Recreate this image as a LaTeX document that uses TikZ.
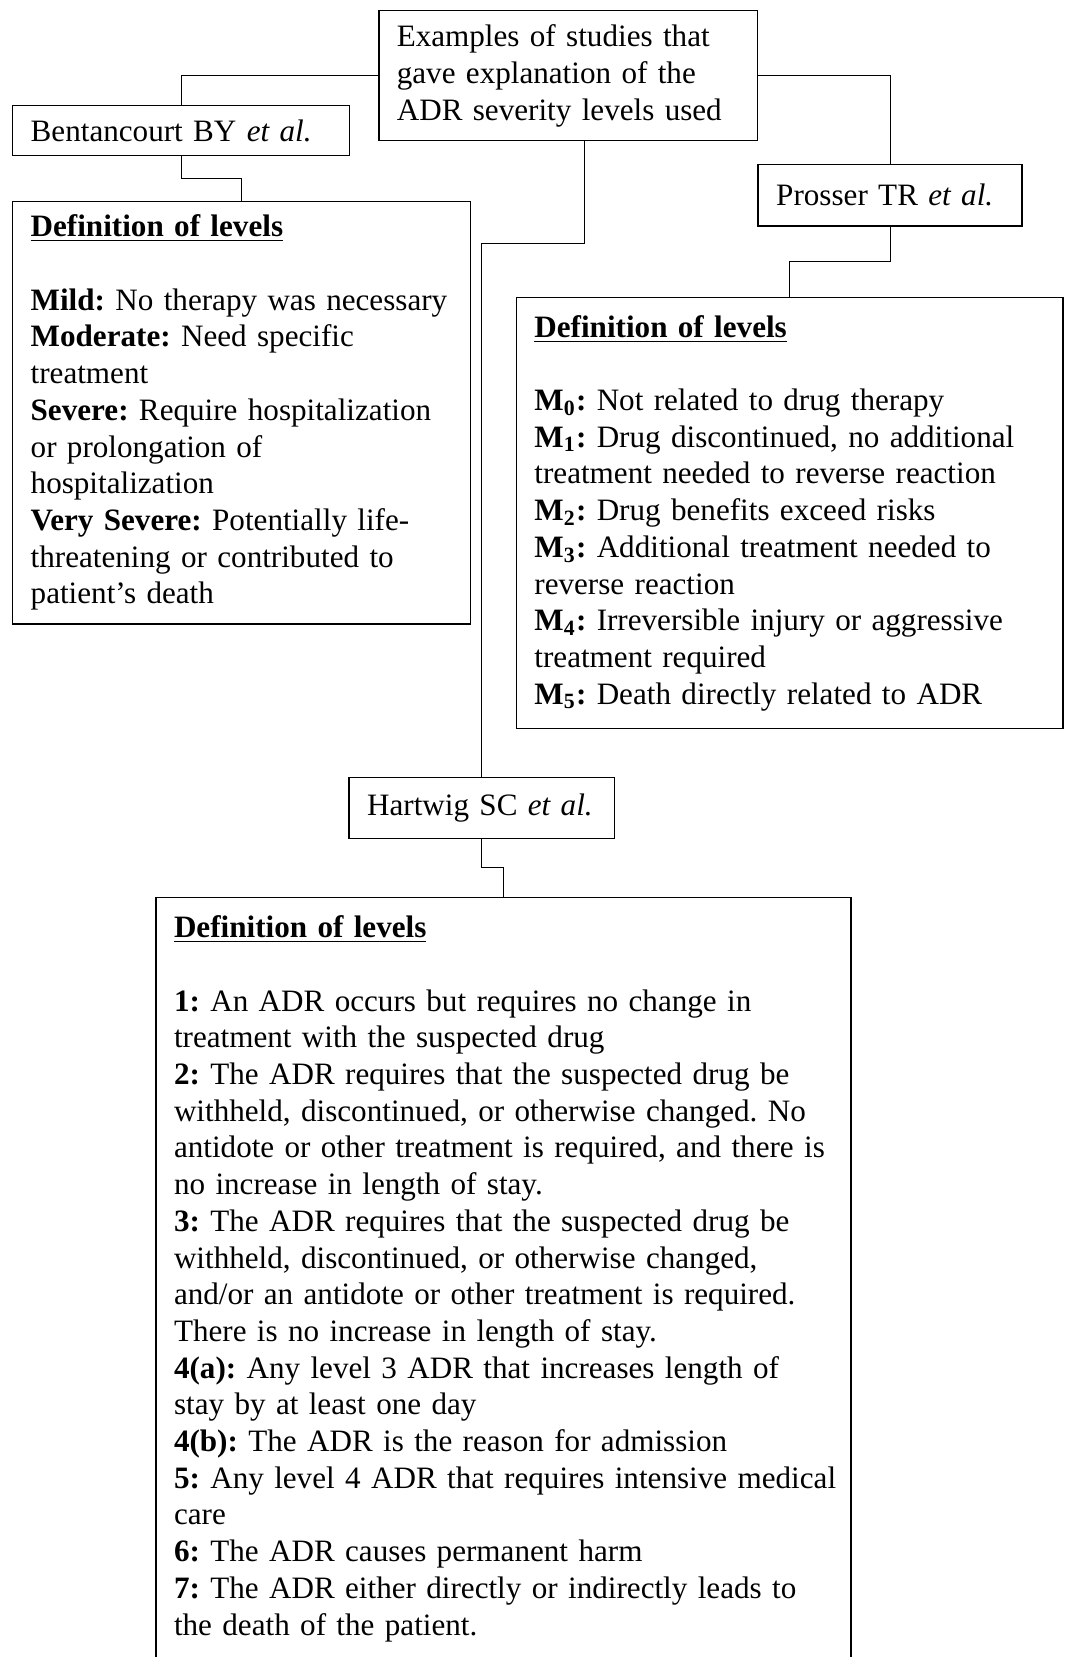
\documentclass[tikz,border=0pt]{standalone}
\usepackage{fontspec}
\setmainfont{Liberation Serif}
\usetikzlibrary{calc}
\newcommand{\boxfont}{\fontsize{11.7pt}{13.8pt}\selectfont\frenchspacing}
\newcommand{\levelhead}{\underline{\textbf{Definition of levels}}\\[13.8pt]}

\begin{document}
\begin{tikzpicture}[
    box/.style={rectangle, draw, line width=0.55pt, inner xsep=0.238cm, inner ysep=0pt, align=left, font=\boxfont, execute at begin node={\rightskip=0pt plus 1fil minus 2cm}},
    link/.style={line width=0.45pt}
]
    \useasboundingbox (0,0) rectangle (14.071,-21.892);
    \clip (0,0) rectangle (14.071,-21.892);

    % Question
    \node[box, text width=4.529cm, minimum height=1.718cm] (question) at (7.507,-1.000) {Examples of studies that\\gave explanation of the\\ADR severity levels used};

    % Studies
    \node[box, text width=3.974cm, minimum height=0.666cm] (bentancourt) at (2.393,-1.724) {Bentancourt BY \textit{et al.}};
    \node[box, align=center, text width=3.009cm, minimum height=0.815cm] (prosser) at (11.760,-2.579) {Prosser TR \textit{et al.}};
    \node[box, text width=3.032cm, minimum height=0.801cm] (hartwig) at (6.366,-10.675) {Hartwig SC \textit{et al.}};

    % Definitions
    \node[box, text width=5.571cm, minimum height=5.585cm] (bentdefs) at (3.191,-5.453) {\levelhead
        \textbf{Mild:} No therapy was necessary\\
        \textbf{Moderate:} Need specific\\
        treatment\\
        \textbf{Severe:} Require hospitalization\\
        or prolongation of\\
        hospitalization\\
        \textbf{Very Severe:} Potentially life-\\
        threatening or contributed to\\
        patient's death};
    \node[box, text width=6.747cm, minimum height=5.694cm] (prosserdefs) at (10.434,-6.778) {\levelhead
        \textbf{M\textsubscript{0}:} Not related to drug therapy\\
        \textbf{M\textsubscript{1}:} Drug discontinued, no additional\\
        treatment needed to reverse reaction\\
        \textbf{M\textsubscript{2}:} Drug benefits exceed risks\\
        \textbf{M\textsubscript{3}:} Additional treatment needed to\\
        reverse reaction\\
        \textbf{M\textsubscript{4}:} Irreversible injury or aggressive\\
        treatment required\\
        \textbf{M\textsubscript{5}:} Death directly related to ADR};
    \node[box, text width=8.706cm, minimum height=10.077cm] (hartwigdefs) at (6.652,-16.894) {\levelhead
        \textbf{1:} An ADR occurs but requires no change in\\
        treatment with the suspected drug\\
        \textbf{2:} The ADR requires that the suspected drug be\\
        withheld, discontinued, or otherwise changed. No\\
        antidote or other treatment is required, and there is\\
        no increase in length of stay.\\
        \textbf{3:} The ADR requires that the suspected drug be\\
        withheld, discontinued, or otherwise changed,\\
        and/or an antidote or other treatment is required.\\
        There is no increase in length of stay.\\
        \textbf{4(a):} Any level 3 ADR that increases length of\\
        stay by at least one day\\
        \textbf{4(b):} The ADR is the reason for admission\\
        \textbf{5:} Any level 4 ADR that requires intensive medical\\
        care\\
        \textbf{6:} The ADR causes permanent harm\\
        \textbf{7:} The ADR either directly or indirectly leads to\\
        the death of the patient.};

    % Connectors
    \coordinate (tap) at ([xshift=0.218cm]question.south);
    \draw[link] (question.west) -| (bentancourt.north);
    \draw[link] (question.east) -| (prosser.north);
    \draw[link] (tap) -- ++(0,-1.348) -| (hartwig.north);
    \draw[link] (bentancourt.south) |- ($(bentancourt.south)!0.5!(bentdefs.north)$) -| (bentdefs.north);
    \draw[link] (prosser.south) |- ($(prosser.south)!0.5!(prosserdefs.north)$) -| (prosserdefs.north);
    \draw[link] (hartwig.south) |- ($(hartwig.south)!0.5!(hartwigdefs.north)$) -| (hartwigdefs.north);
\end{tikzpicture}
\end{document}
